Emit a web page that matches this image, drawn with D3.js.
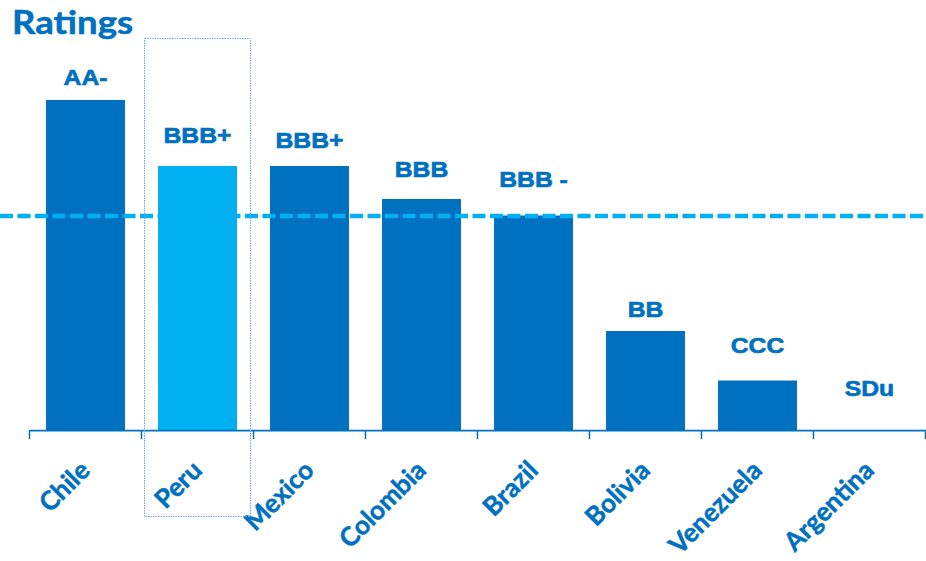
<!DOCTYPE html>
<html>
<head>
<meta charset="utf-8">
<script src="https://cdn.jsdelivr.net/npm/d3@7/dist/d3.min.js"></script>
<style>
  html, body { margin: 0; padding: 0; background: #ffffff; }
  svg { display: block; }
</style>
</head>
<body>
<svg id="chart" width="926" height="561"></svg>
<script>
// Sovereign credit ratings by country, plotted on a numeric rating score
const countries = ["Chile", "Peru", "Mexico", "Colombia", "Brazil", "Bolivia", "Venezuela", "Argentina"];
const ratingLabels = ["AA-", "BBB+", "BBB+", "BBB", "BBB -", "BB", "CCC", "SDu"];
const ratingScores = [20, 16, 16, 14, 13, 6, 3, 0];
const investmentGrade = 13;   // BBB- threshold
const highlighted = "Peru";

// Layout
const width = 926, height = 561;
const axisY = 430;
const labelLift = [15, 23, 18, 22, 29, 14, 28, 34];  // gap between bar top and rating text

const dark = "#0070C0";
const light = "#00B0F0";

const svg = d3.select("#chart");

const x = d3.scaleBand()
  .domain(countries)
  .range([29.5, 925.5])
  .paddingInner(0.295)
  .paddingOuter(0.1475);

const y = d3.scaleLinear()
  .domain([0, 20])
  .range([axisY, 100]);

// Title
svg.append("text")
  .attr("x", 12)
  .attr("y", 34)
  .attr("fill", dark)
  .attr("stroke", dark)
  .attr("stroke-width", 0.5)
  .attr("font-family", "Lato, 'Open Sans', sans-serif")
  .attr("font-weight", 700)
  .attr("font-size", 33)
  .attr("textLength", 121)
  .attr("lengthAdjust", "spacingAndGlyphs")
  .text("Ratings");

// Bars
svg.append("g")
  .selectAll("rect")
  .data(countries)
  .join("rect")
  .attr("x", d => x(d))
  .attr("y", (d, i) => y(ratingScores[i]))
  .attr("width", x.bandwidth())
  .attr("height", (d, i) => axisY - y(ratingScores[i]))
  .attr("fill", d => d === highlighted ? light : dark);

// Investment-grade threshold
svg.append("line")
  .attr("x1", 0)
  .attr("x2", width)
  .attr("y1", y(investmentGrade) + 0.5)
  .attr("y2", y(investmentGrade) + 0.5)
  .attr("stroke", light)
  .attr("stroke-width", 4.5)
  .attr("stroke-dasharray", "13,4.5");

// Rating labels above the bars
svg.append("g")
  .selectAll("text")
  .data(countries)
  .join("text")
  .attr("transform", (d, i) =>
    `translate(${x(d) + x.bandwidth() / 2},${y(ratingScores[i]) - labelLift[i]}) scale(1.15,1)`)
  .attr("text-anchor", "middle")
  .attr("fill", dark)
  .attr("stroke", dark)
  .attr("stroke-width", 0.6)
  .attr("font-family", "'Liberation Sans', Arial, sans-serif")
  .attr("font-weight", 700)
  .attr("font-size", 21.5)
  .text((d, i) => ratingLabels[i]);

// Category axis
const axis = d3.axisBottom(x)
  .tickValues([])
  .tickSizeOuter(0);

const axisG = svg.append("g")
  .attr("transform", `translate(0,${axisY})`)
  .call(axis);
axisG.select(".domain")
  .attr("stroke", dark)
  .attr("stroke-width", 1.75);

// Tick marks between categories
const tickPositions = d3.range(countries.length + 1).map(i => x.range()[0] + i * x.step());
axisG.selectAll(".sep")
  .data(tickPositions)
  .join("line")
  .attr("class", "sep")
  .attr("x1", d => d)
  .attr("x2", d => d)
  .attr("y1", 0)
  .attr("y2", 9)
  .attr("stroke", dark)
  .attr("stroke-width", 1.5);

// Rotated category labels
svg.append("g")
  .selectAll("text")
  .data(countries)
  .join("text")
  .attr("transform", d => `translate(${x(d) + x.bandwidth() / 2 + 6},${axisY + 42}) rotate(-45)`)
  .attr("text-anchor", "end")
  .attr("fill", dark)
  .attr("stroke", dark)
  .attr("stroke-width", 0.5)
  .attr("font-family", "Lato, 'Open Sans', sans-serif")
  .attr("font-weight", 700)
  .attr("font-size", 26)
  .text(d => d);

// Highlight frame around Peru
svg.append("rect")
  .attr("x", x(highlighted) - 13.5)
  .attr("y", 38.5)
  .attr("width", 106)
  .attr("height", 478)
  .attr("fill", "none")
  .attr("stroke", "#6FA8DC")
  .attr("stroke-width", 1)
  .attr("stroke-dasharray", "1.5,1");
</script>
</body>
</html>
